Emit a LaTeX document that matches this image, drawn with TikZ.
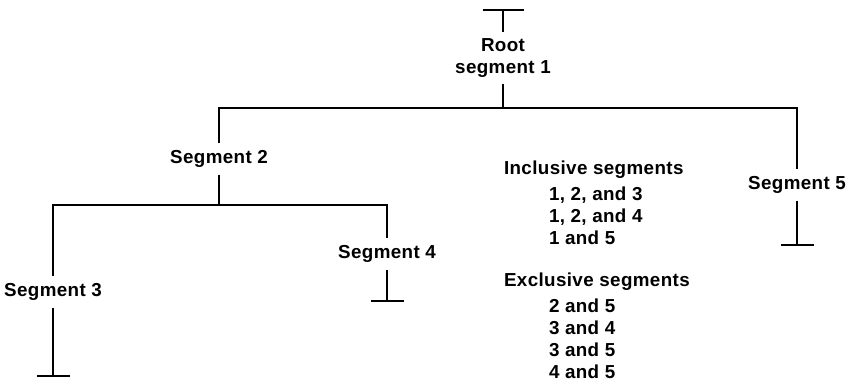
\documentclass[tikz,border=0pt]{standalone}
\usepackage{fontspec}
\setmainfont[LetterSpace=2]{Liberation Sans}
\usetikzlibrary{arrows.meta}
\begin{document}
\begin{tikzpicture}[x=0.5pt,y=-0.5pt,line width=1pt,
  lbl/.style={font=\fontsize{9.4}{11}\selectfont\bfseries,inner sep=3pt},
  lst/.style={lbl,align=left,anchor=base west,inner sep=0pt},
  stopbig/.style={-{Bar[width=20.5pt]}},
  stopsm/.style={-{Bar[width=16.5pt]}}]
\pgfmathsetmacro{\ind}{22.5}
\useasboundingbox (0,0) rectangle (851,382);
\node[lbl,align=center](root) at (503,58) {Root\\segment 1};
\node[lbl](seg2) at (219,159) {Segment 2};
\node[lbl](seg3) at (53,292) {Segment 3};
\node[lbl](seg4) at (387,254) {Segment 4};
\node[lbl](seg5) at (797,185) {Segment 5};
\coordinate (j1) at (503,108);
\coordinate (j2) at (219,205);
\coordinate (e1) at (503,9);
\coordinate (e3) at (53,377);
\coordinate (e4) at (387,302);
\coordinate (e5) at (797,246);
\draw[stopbig](root)--(e1);
\draw(root)--(j1);
\draw(seg2)|-(j1)-|(seg5);
\draw(seg2)--(j2);
\draw(seg3)|-(j2)-|(seg4);
\draw[stopsm](seg3)--(e3);
\draw[stopsm](seg4)--(e4);
\draw[stopsm](seg5)--(e5);
\node[lst](incl) at (503,244) {Inclusive segments\\[2pt]\hspace{\ind pt}1, 2, and 3\\\hspace{\ind pt}1, 2, and 4\\\hspace{\ind pt}1 and 5};
\node[lst](excl) at (503,378) {Exclusive segments\\[2pt]\hspace{\ind pt}2 and 5\\\hspace{\ind pt}3 and 4\\\hspace{\ind pt}3 and 5\\\hspace{\ind pt}4 and 5};
\end{tikzpicture}
\end{document}
